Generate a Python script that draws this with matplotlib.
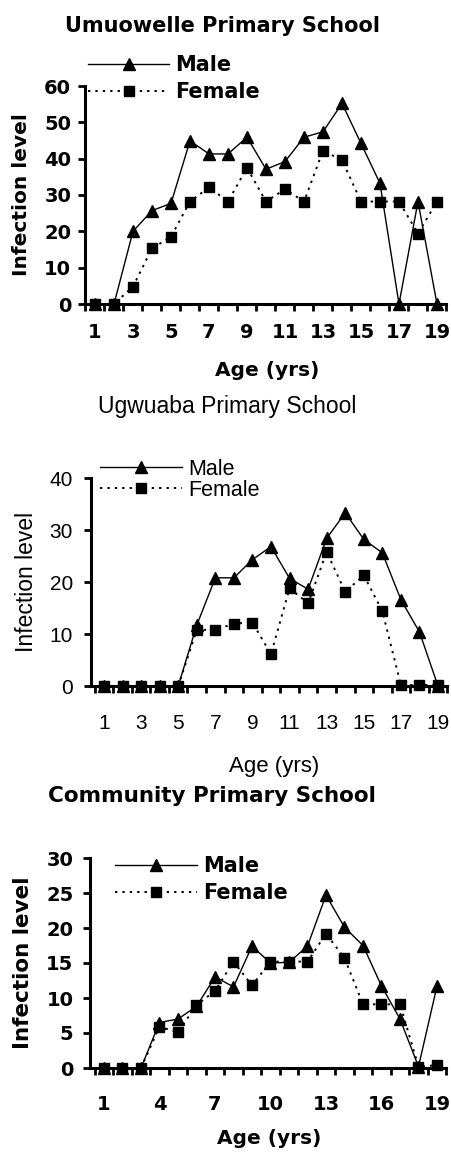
import numpy as np
import matplotlib
matplotlib.use("Agg")
import matplotlib.pyplot as plt

# ages 1..19
ages = list(range(1, 20))

# Umuowelle Primary School
umu_male = [0, 0, 20, 25.7, 27.7, 44.9, 41.3, 41.3, 45.9, 37.1, 39.2, 45.9, 47.4, 55.2, 44.2, 33.2, 0, 28.2, 0]
umu_female = [0, 0, 4.8, 15.3, 18.5, 28.2, 32.1, 28.2, 37.5, 28.2, 31.6, 28.2, 42.2, 39.6, 28.2, 28.2, 28.2, 19.4, 28.2]

# Ugwuaba Primary School
ugw_male = [0, 0, 0, 0, 0, 11.7, 20.8, 20.8, 24.3, 26.8, 20.7, 18.6, 28.4, 33.3, 28.2, 25.6, 16.6, 10.4, 0]
ugw_female = [0, 0, 0, 0, 0, 10.8, 10.8, 12.0, 12.2, 6.1, 18.8, 15.9, 25.8, 18.1, 21.3, 14.4, 0.2, 0.2, 0.2]

# Community Primary School
com_male = [0, 0, 0, 6.5, 7.0, 8.8, 13.0, 11.6, 17.4, 15.0, 15.1, 17.4, 24.7, 20.1, 17.5, 11.7, 7.0, 0.2, 11.7]
com_female = [0, 0, 0, 5.9, 5.1, 9.0, 11.0, 15.2, 11.8, 15.2, 15.2, 15.2, 19.2, 15.7, 9.1, 9.1, 9.1, 0.2, 0.4]

W, H = 452, 1152
fig = plt.figure(figsize=(W / 100, H / 100), dpi=100)

BOLD = dict(family="DejaVu Sans", weight="bold")
ARIAL = dict(family="Liberation Sans", weight="normal")


def fx(px):
    return px / W


def fy(py):
    return 1 - py / H


def make_axes(left_px, x1_px, x19_px, top_px, bottom_px):
    # place axes so that x=1 and x=19 land on the given pixels, right end at 19.5
    u = (x19_px - x1_px) / 18.0
    xmin = 1 - (x1_px - left_px) / u
    right_px = x19_px + 0.5 * u
    ax = fig.add_axes([fx(left_px), fy(bottom_px), (right_px - left_px) / W, (bottom_px - top_px) / H])
    ax.set_xlim(xmin, 19.5)
    return ax


def draw_panel(ax, male, female, ytop, ystep, labelled, font, tick_fs, lab_fs,
               xpad, ypad, ylabel_px):
    ax.plot(ages, male, color="black", lw=1.0, marker="^", ms=9, clip_on=False, label="Male", zorder=3)
    ax.plot(ages, female, color="black", lw=1.4, ls=(0, (1.2, 2.6)), marker="s", ms=7,
            clip_on=False, label="Female", zorder=3)
    ax.set_ylim(0, ytop)
    ax.set_yticks(np.arange(0, ytop + 1, ystep))
    # category-style axis: ticks between ages, labels on ages
    ax.set_xticks(labelled)
    ax.set_xticks(np.arange(0.5, 19.6, 1), minor=True)
    ax.tick_params(axis="x", which="major", length=0, pad=xpad)
    ax.tick_params(axis="x", which="minor", direction="out", length=5, width=2)
    ax.tick_params(axis="y", direction="out", length=5, width=2, pad=ypad)
    for s in ["top", "right"]:
        ax.spines[s].set_visible(False)
    for s in ["left", "bottom"]:
        ax.spines[s].set_linewidth(2.2)
    for lab in ax.get_xticklabels() + ax.get_yticklabels():
        lab.set_fontfamily(font["family"])
        lab.set_fontweight(font["weight"])
        lab.set_fontsize(tick_fs)
    ax.set_ylabel("Infection level", fontsize=lab_fs, **font)
    pos = ax.get_position()
    ax.yaxis.set_label_coords((fx(ylabel_px) - pos.x0) / pos.width, 0.5)
    ax.yaxis.label.set_va("center")


def add_legend(ax, font, fs, left_px, top_px, hl, spacing):
    ax.legend(loc="upper left", bbox_to_anchor=(fx(left_px), fy(top_px)), bbox_transform=fig.transFigure,
              frameon=False, handlelength=hl, handletextpad=0.28, labelspacing=spacing,
              borderaxespad=0, borderpad=0, prop=dict(size=fs, **font))


# Panel 1 - Umuowelle
ax1 = make_axes(85, 95, 437, 86, 304)
draw_panel(ax1, umu_male, umu_female, 60, 10, [1, 3, 5, 7, 9, 11, 13, 15, 17, 19],
           BOLD, 14, 14.5, 14, 5, 22)
add_legend(ax1, BOLD, 15, 88, 55, 3.9, 0.35)
fig.text(fx(223), fy(32), "Umuowelle Primary School", ha="center", va="baseline", fontsize=15, **BOLD)
fig.text(fx(267), fy(376), "Age (yrs)", ha="center", va="baseline", fontsize=14.5, **BOLD)

# Panel 2 - Ugwuaba
ax2 = make_axes(91, 104, 438, 478, 686)
draw_panel(ax2, ugw_male, ugw_female, 40, 10, [1, 3, 5, 7, 9, 11, 13, 15, 17, 19],
           ARIAL, 15, 16.5, 20.5, 8, 27)
add_legend(ax2, ARIAL, 15.5, 100, 459, 3.8, 0.0)
fig.text(fx(227), fy(413), "Ugwuaba Primary School", ha="center", va="baseline", fontsize=16.5, **ARIAL)
fig.text(fx(274), fy(772), "Age (yrs)", ha="center", va="baseline", fontsize=16, **ARIAL)

# Panel 3 - Community
ax3 = make_axes(90, 104, 437, 858, 1068)
draw_panel(ax3, com_male, com_female, 30, 5, [1, 4, 7, 10, 13, 16, 19],
           BOLD, 14, 15.5, 19.5, 7, 23)
add_legend(ax3, BOLD, 15, 115, 856, 3.95, 0.35)
fig.text(fx(212), fy(802), "Community Primary School", ha="center", va="baseline", fontsize=15.5, **BOLD)
fig.text(fx(269), fy(1144), "Age (yrs)", ha="center", va="baseline", fontsize=14.5, **BOLD)

fig.savefig("out.png", dpi=100)
